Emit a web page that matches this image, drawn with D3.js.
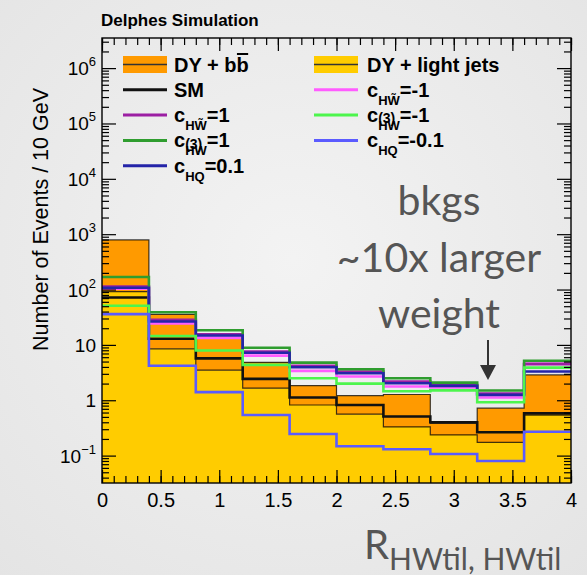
<!DOCTYPE html>
<html>
<head>
<meta charset="utf-8">
<script src="https://cdn.jsdelivr.net/npm/d3@7"></script>
<style>
  html, body { margin: 0; padding: 0; }
  body { width: 587px; height: 575px; overflow: hidden; }
  svg { display: block; }
</style>
</head>
<body>
<svg id="chart" width="587" height="575"></svg>
<script>
// ---- histogram content: 10 bins in R(HWtil, HWtil) ----
const binEdges = [0, 0.4, 0.8, 1.2, 1.6, 2.0, 2.4, 2.8, 3.2, 3.6, 4.0];

// backgrounds (stacked: light jets at the bottom, b b-bar on top)
const dyLightJets = [92, 8.5, 3.5, 1.65, 0.82, 0.56, 0.33, 0.236, 0.174, 0.54];
const dyBB        = [697, 27, 10, 3.2, 1.02, 0.65, 0.94, 0.144, 0.546, 2.33];

// signal hypotheses
const sigSM      = [72, 12.9, 5.7, 2.43, 1.12, 0.82, 0.51, 0.40, 0.265, 0.58];
const sigHWtP1   = [113, 28.3, 15.6, 7.6, 4.17, 3.3, 2.17, 1.89, 1.32, 4.47];
const sigHWP1    = [168, 39, 18.4, 8.9, 4.79, 3.63, 2.5, 2.08, 1.5, 5.14];
const sigHQ3P01  = [108, 26.5, 14.8, 7.2, 3.95, 3.08, 2.03, 1.82, 1.25, 3.3];
const sigHWtM1   = [104, 24.5, 13.4, 6.4, 3.39, 2.68, 1.77, 1.7, 1.12, 4.66];
const sigHWM1    = [51, 14.5, 7.9, 4.35, 2.5, 2.0, 1.45, 1.51, 0.92, 3.89];
const sigHQ3M01  = [36, 4.2, 1.4, 0.54, 0.246, 0.148, 0.13, 0.107, 0.08, 0.27];

// axis ticks
const xTickValues = [0, 0.5, 1, 1.5, 2, 2.5, 3, 3.5, 4];
const xTickLabels = ["0", "0.5", "1", "1.5", "2", "2.5", "3", "3.5", "4"];
const yTickValues = [0.1, 1, 10, 100, 1e3, 1e4, 1e5, 1e6];
const yTickBases  = ["10", "1", "10", "10", "10", "10", "10", "10"];
const yTickExps   = ["\u22121", "", "", "2", "3", "4", "5", "6"];

// ---- drawing ----
const svg = d3.select("#chart");
const W = 587, H = 575;
const plot = { left: 102, right: 571, top: 38, bottom: 483 };

const COL = {
  orange: "#ff9a00", yellow: "#ffcc00",
  sm: "#111111", purple: "#9c1fa3", dkgreen: "#2f9d2f", dkblue: "#2424a8",
  magenta: "#ff5cff", ltgreen: "#4df54d", ltblue: "#5b5bff"
};

// slide background
const defs = svg.append("defs");
const grad = defs.append("radialGradient").attr("id", "bg")
  .attr("cx", "50%").attr("cy", "45%").attr("r", "75%");
grad.append("stop").attr("offset", "0%").attr("stop-color", "#f3f3f3");
grad.append("stop").attr("offset", "100%").attr("stop-color", "#e4e4e4");
svg.append("rect").attr("width", W).attr("height", H).attr("fill", "url(#bg)");

const x = d3.scaleLinear().domain([0, 4]).range([plot.left, plot.right]);
const y = d3.scaleLog().domain([0.032, 3.5e6]).range([plot.bottom, plot.top]);

const clip = defs.append("clipPath").attr("id", "plotclip");
clip.append("rect").attr("x", plot.left).attr("y", plot.top)
  .attr("width", plot.right - plot.left).attr("height", plot.bottom - plot.top);

const gPlot = svg.append("g").attr("clip-path", "url(#plotclip)");

// stacked backgrounds
const rows = dyLightJets.map((v, i) => ({ light: v, bb: dyBB[i] }));
const stacked = d3.stack().keys(["light", "bb"])(rows);
const yMin = y.domain()[0];

function extendBins(arr) {
  // one point per bin's left edge plus a closing point on the last edge
  const pts = arr.map((d, i) => ({ e: binEdges[i], d }));
  pts.push({ e: binEdges[binEdges.length - 1], d: arr[arr.length - 1] });
  return pts;
}

const area = d3.area()
  .x(p => x(p.e))
  .y0(p => y(Math.max(p.d[0], yMin)))
  .y1(p => y(p.d[1]))
  .curve(d3.curveStepAfter);
const stepLine = d3.line()
  .x(p => x(p.e))
  .y(p => y(p.d))
  .curve(d3.curveStepAfter);

const fills = { light: COL.yellow, bb: COL.orange };
stacked.forEach(s => {
  gPlot.append("path").attr("d", area(extendBins(Array.from(s))))
    .attr("fill", fills[s.key]).attr("stroke", "none");
});
stacked.forEach(s => {
  const tops = Array.from(s).map(d => d[1]);
  gPlot.append("path").attr("d", stepLine(extendBins(tops)))
    .attr("fill", "none").attr("stroke", "#000").attr("stroke-opacity", 0.75)
    .attr("stroke-width", 1.2);
});

// signal step lines
const signals = [
  { vals: sigSM, color: COL.sm },
  { vals: sigHWtM1, color: COL.magenta },
  { vals: sigHWtP1, color: COL.purple },
  { vals: sigHWP1, color: COL.dkgreen },
  { vals: sigHQ3P01, color: COL.dkblue },
  { vals: sigHWM1, color: COL.ltgreen },
  { vals: sigHQ3M01, color: COL.ltblue }
];
signals.forEach(s => {
  gPlot.append("path").attr("d", stepLine(extendBins(s.vals)))
    .attr("fill", "none").attr("stroke", s.color).attr("stroke-width", 2.6);
});

// ---- axes ----
const axisFont = "'Liberation Sans', Arial, Helvetica, sans-serif";
function styleAxis(g) {
  g.select(".domain").remove();
  g.selectAll(".tick line").attr("stroke", "#000").attr("stroke-width", 1.2);
}
const xMinor = d3.range(0, 4.0001, 0.1).map(v => +v.toFixed(2));

svg.append("g").attr("transform", `translate(0,${plot.bottom})`)
  .call(d3.axisBottom(x).tickValues(xMinor).tickSize(-7).tickFormat(""))
  .call(styleAxis);
const gxB = svg.append("g").attr("transform", `translate(0,${plot.bottom})`)
  .call(d3.axisBottom(x).tickValues(xTickValues).tickSize(-13).tickPadding(10)
    .tickFormat((d, i) => xTickLabels[i]))
  .call(styleAxis);
gxB.selectAll(".tick text").attr("font-family", axisFont).attr("font-size", 20)
  .attr("fill", "#000").attr("dy", "0.72em");

svg.append("g").attr("transform", `translate(0,${plot.top})`)
  .call(d3.axisTop(x).tickValues(xMinor).tickSize(-7).tickFormat(""))
  .call(styleAxis);
svg.append("g").attr("transform", `translate(0,${plot.top})`)
  .call(d3.axisTop(x).tickValues(xTickValues).tickSize(-13).tickFormat(""))
  .call(styleAxis);

// log minor ticks
const yMinor = [];
for (let e = -2; e <= 6; e++) {
  for (let m = 2; m <= 9; m++) {
    const v = m * Math.pow(10, e);
    if (v >= y.domain()[0] && v <= y.domain()[1]) yMinor.push(v);
  }
}
[[plot.left, d3.axisLeft], [plot.right, d3.axisRight]].forEach(([px, ax]) => {
  svg.append("g").attr("transform", `translate(${px},0)`)
    .call(ax(y).tickValues(yMinor).tickSize(-7).tickFormat(""))
    .call(styleAxis);
  svg.append("g").attr("transform", `translate(${px},0)`)
    .call(ax(y).tickValues(yTickValues).tickSize(-14).tickFormat(""))
    .call(styleAxis);
});

// y tick labels with exponents
const yLab = svg.append("g");
yTickValues.forEach((v, i) => {
  const t = yLab.append("text").attr("x", 96).attr("y", y(v) + 7)
    .attr("text-anchor", "end").attr("font-family", axisFont)
    .attr("font-size", 19).attr("fill", "#000");
  t.append("tspan").text(yTickBases[i]);
  if (yTickExps[i]) {
    t.append("tspan").attr("dy", -9).attr("font-size", 13).text(yTickExps[i]);
  }
});

// frame
svg.append("rect").attr("x", plot.left).attr("y", plot.top)
  .attr("width", plot.right - plot.left).attr("height", plot.bottom - plot.top)
  .attr("fill", "none").attr("stroke", "#000").attr("stroke-width", 1.4);

// axis title (y)
svg.append("text")
  .attr("transform", `translate(48,${plot.top + 50}) rotate(-90)`)
  .attr("text-anchor", "end").attr("font-family", axisFont)
  .attr("font-size", 21.5).attr("fill", "#000")
  .text("Number of Events / 10 GeV");

// header
svg.append("text").attr("x", 101).attr("y", 26)
  .attr("font-family", axisFont).attr("font-weight", "bold")
  .attr("font-size", 17).attr("fill", "#000").text("Delphes Simulation");

// ---- legend ----
const leg = svg.append("g").attr("font-family", axisFont).attr("font-weight", "bold")
  .attr("fill", "#000");
const rowY = i => 64.5 + i * 25.3;
const cols = [{ sx: 123, tx: 174 }, { sx: 314, tx: 367 }];

function measure(str, size) {
  const t = leg.append("text").attr("font-size", size).text(str);
  const w = t.node().getComputedTextLength();
  t.remove();
  return w;
}

function coeffLabel(tx, base, sub, sup, rest) {
  const cw = measure("c", 20);
  const t = leg.append("text").attr("x", tx).attr("y", base).attr("font-size", 20);
  t.append("tspan").text("c");
  if (sup) {
    t.append("tspan").attr("x", tx + cw).attr("y", base - 24).attr("font-size", 14).text(sup);
  }
  t.append("tspan").attr("x", tx + cw).attr("y", base + 8).attr("font-size", 13).text(sub);
  t.append("tspan").attr("y", base).attr("font-size", 20).text(rest);
}

const legendEntries = [
  { col: 0, row: 0, type: "fill", color: COL.orange, label: "bb" },
  { col: 1, row: 0, type: "fill", color: COL.yellow, label: "DY + light jets" },
  { col: 0, row: 1, type: "line", color: COL.sm, label: "SM" },
  { col: 1, row: 1, type: "line", color: COL.magenta, coef: ["HW\u0303", null, "=-1"] },
  { col: 0, row: 2, type: "line", color: COL.purple, coef: ["HW\u0303", null, "=1"] },
  { col: 1, row: 2, type: "line", color: COL.ltgreen, coef: ["HW", null, "=-1"] },
  { col: 0, row: 3, type: "line", color: COL.dkgreen, coef: ["HW", null, "=1"] },
  { col: 1, row: 3, type: "line", color: COL.ltblue, coef: ["HQ", "(3)", "=-0.1"] },
  { col: 0, row: 4, type: "line", color: COL.dkblue, coef: ["HQ", "(3)", "=0.1"] }
];

legendEntries.forEach(e => {
  const c = cols[e.col], cy = rowY(e.row), base = cy + 7;
  if (e.type === "fill") {
    leg.append("rect").attr("x", c.sx).attr("y", cy - 8.5).attr("width", 44).attr("height", 17)
      .attr("fill", e.color);
    leg.append("line").attr("x1", c.sx).attr("x2", c.sx + 44).attr("y1", cy).attr("y2", cy)
      .attr("stroke", "#333").attr("stroke-width", 1.6);
  } else {
    leg.append("line").attr("x1", c.sx).attr("x2", c.sx + 44).attr("y1", cy).attr("y2", cy)
      .attr("stroke", e.color).attr("stroke-width", 3);
  }
  if (e.coef) {
    coeffLabel(c.tx, base, e.coef[0], e.coef[1], e.coef[2]);
  } else if (e.label === "bb") {
    const pre = "DY + b";
    leg.append("text").attr("x", c.tx).attr("y", base).attr("font-size", 20).text(pre);
    const w1 = measure(pre, 20), w2 = measure("b", 20);
    leg.append("text").attr("x", c.tx + w1).attr("y", base).attr("font-size", 20).text("b");
    leg.append("line").attr("x1", c.tx + w1 + 0.5).attr("x2", c.tx + w1 + w2 - 0.5)
      .attr("y1", base - 17.5).attr("y2", base - 17.5)
      .attr("stroke", "#000").attr("stroke-width", 2);
  } else {
    leg.append("text").attr("x", c.tx).attr("y", base).attr("font-size", 20).text(e.label);
  }
});

// ---- annotation ----
const noteFont = "Lato, 'Open Sans', sans-serif";
const note = svg.append("g").attr("font-family", noteFont).attr("fill", "#555")
  .attr("text-anchor", "middle").attr("font-size", 41);
[["bkgs", 215], ["~10x larger", 272], ["weight", 328]].forEach(([s, by]) => {
  note.append("text").attr("x", 439).attr("y", by).text(s);
});
svg.append("line").attr("x1", 488).attr("x2", 488).attr("y1", 340).attr("y2", 368)
  .attr("stroke", "#333").attr("stroke-width", 2);
svg.append("path").attr("d", "M480,365 L496,365 L488,380 Z").attr("fill", "#333");

// x-axis title
const xt = svg.append("text").attr("x", 364).attr("y", 559)
  .attr("font-family", noteFont).attr("fill", "#555").attr("font-size", 40);
xt.append("tspan").text("R");
xt.append("tspan").attr("dy", 11).attr("font-size", 30).text("HWtil, HWtil");
</script>
</body>
</html>
